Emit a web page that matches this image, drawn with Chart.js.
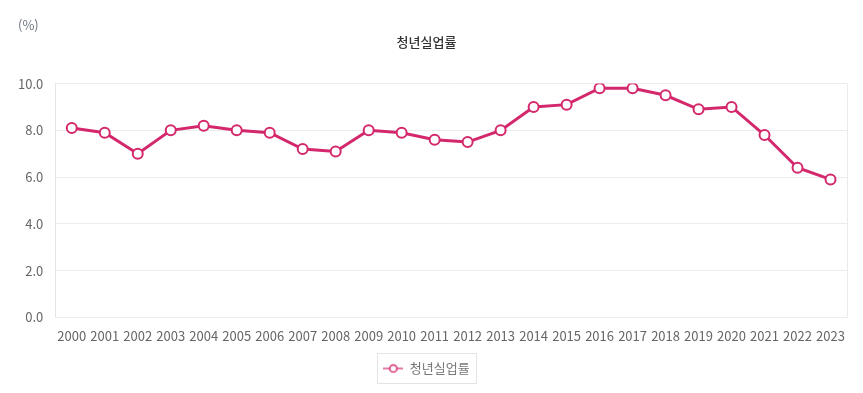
<!DOCTYPE html>
<html lang="ko">
<head>
<meta charset="UTF-8">
<title>청년실업률</title>
<script src="https://cdn.jsdelivr.net/npm/chart.js@4.4.0/dist/chart.umd.min.js"></script>
<style>
  html, body { margin: 0; padding: 0; background: #fff; }
  #wrap { width: 863px; height: 393px; }
</style>
</head>
<body>
<div id="wrap"><canvas id="chart" width="863" height="393"></canvas></div>
<script>
const years = ['2000','2001','2002','2003','2004','2005','2006','2007','2008','2009','2010','2011',
  '2012','2013','2014','2015','2016','2017','2018','2019','2020','2021','2022','2023'];
const youthRate = [8.1, 7.9, 7.0, 8.0, 8.2, 8.0, 7.9, 7.2, 7.1, 8.0, 7.9, 7.6,
  7.5, 8.0, 9.0, 9.1, 9.8, 9.8, 9.5, 8.9, 9.0, 7.8, 6.4, 5.9];
const yTicks = [0, 2, 4, 6, 8, 10];

const pink = '#d4286c';
const fontFamily = '"Noto Sans CJK KR", "Noto Sans", sans-serif';

// legend marker: short line with open circle
function legendMarker() {
  const c = document.createElement('canvas');
  c.width = 20; c.height = 12;
  const g = c.getContext('2d');
  g.strokeStyle = pink;
  g.lineWidth = 1.2;
  g.beginPath(); g.moveTo(0, 6); g.lineTo(20, 6); g.stroke();
  g.lineWidth = 1.5;
  g.fillStyle = '#fff';
  g.beginPath(); g.arc(10, 6, 3.6, 0, Math.PI * 2); g.fill(); g.stroke();
  return c;
}

const extras = {
  id: 'extras',
  afterDraw(chart) {
    const ctx = chart.ctx;
    const a = chart.chartArea;
    ctx.save();
    // right frame line
    ctx.strokeStyle = '#ebebeb';
    ctx.lineWidth = 1;
    ctx.beginPath(); ctx.moveTo(Math.round(a.right) + 0.5, a.top); ctx.lineTo(Math.round(a.right) + 0.5, a.bottom); ctx.stroke();
    // unit label
    ctx.fillStyle = '#6f7680';
    ctx.font = '13px ' + fontFamily;
    ctx.textBaseline = 'middle';
    ctx.fillText('(%)', 18, 25);
    // legend box
    const lg = chart.legend;
    if (lg && lg.legendHitBoxes.length) {
      const b = lg.legendHitBoxes[0];
      const cy = b.top + b.height / 2;
      ctx.strokeStyle = '#e4e4e4';
      ctx.strokeRect(Math.round(b.left) - 5.5, Math.round(cy) - 15.5, Math.round(b.width) + 13, 30);
    }
    ctx.restore();
  }
};

new Chart(document.getElementById('chart'), {
  type: 'line',
  data: {
    labels: years,
    datasets: [{
      label: '청년실업률',
      data: youthRate,
      borderColor: pink,
      backgroundColor: '#fff',
      borderWidth: 3,
      pointRadius: 5,
      pointBorderWidth: 2,
      pointBackgroundColor: '#fff',
      pointBorderColor: pink,
      tension: 0,
      pointStyle: 'circle'
    }]
  },
  options: {
    responsive: false,
    animation: false,
    layout: { padding: { left: 6, right: 16, top: 0, bottom: 8 } },
    plugins: {
      title: {
        display: true,
        text: '청년실업률',
        color: '#333',
        font: { family: fontFamily, size: 13, weight: '500' },
        padding: { top: 34, bottom: 34 }
      },
      legend: {
        position: 'bottom',
        labels: {
          color: '#777',
          font: { family: fontFamily, size: 13 },
          usePointStyle: true,
          pointStyleWidth: 20,
          padding: 15,
          generateLabels(chart) {
            return chart.data.datasets.map((d, i) => ({
              text: d.label,
              pointStyle: legendMarker(),
              fontColor: '#777',
              strokeStyle: pink,
              fillStyle: '#fff',
              lineWidth: 0,
              datasetIndex: i
            }));
          }
        }
      },
      tooltip: { enabled: false }
    },
    scales: {
      x: {
        offset: true,
        grid: { display: false },
        border: { display: false },
        ticks: { color: '#666', font: { family: fontFamily, size: 13 }, padding: 3, maxRotation: 0, autoSkip: false }
      },
      y: {
        min: 0,
        max: 10,
        afterBuildTicks(axis) { axis.ticks = yTicks.map(v => ({ value: v })); },
        grid: { color: '#ececec', drawTicks: false },
        border: { color: '#e6e6e6' },
        ticks: {
          color: '#666',
          font: { family: fontFamily, size: 13 },
          padding: 12,
          callback: v => Number(v).toFixed(1)
        }
      }
    }
  },
  plugins: [extras]
});
</script>
</body>
</html>
